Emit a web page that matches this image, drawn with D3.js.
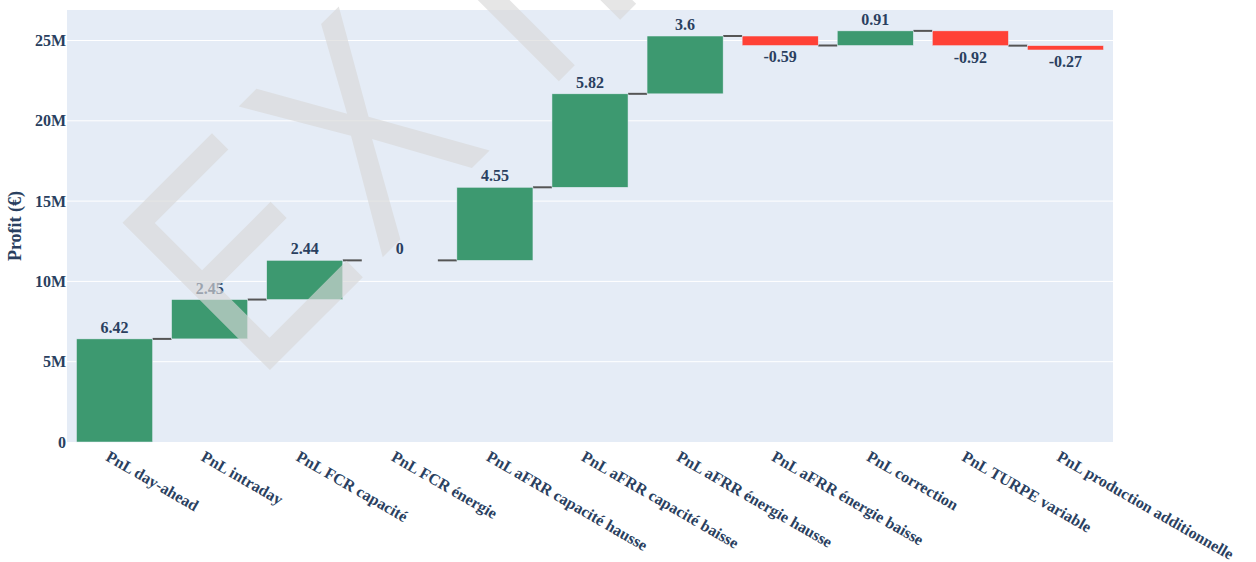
<!DOCTYPE html>
<html>
<head>
<meta charset="utf-8">
<script src="https://cdn.jsdelivr.net/npm/d3@7"></script>
<style>
  body { margin: 0; background: #fff; }
</style>
</head>
<body>
<div id="my_dataviz"></div>
<script>
// chart data (values in euros)
var categories = ["PnL day-ahead", "PnL intraday", "PnL FCR capacité", "PnL FCR énergie",
  "PnL aFRR capacité hausse", "PnL aFRR capacité baisse", "PnL aFRR énergie hausse",
  "PnL aFRR énergie baisse", "PnL correction", "PnL TURPE variable", "PnL production additionnelle"];
var values = [6.42e6, 2.45e6, 2.44e6, 0, 4.55e6, 5.82e6, 3.6e6, -0.59e6, 0.91e6, -0.92e6, -0.27e6];
var labels = ["6.42", "2.45", "2.44", "0", "4.55", "5.82", "3.6", "-0.59", "0.91", "-0.92", "-0.27"];
var yTicks = [0, 5e6, 10e6, 15e6, 20e6, 25e6];
var yTickLabels = ["0", "5M", "10M", "15M", "20M", "25M"];

// set the dimensions and margins of the graph
var width = 1256, height = 562;
var margin = {top: 10, right: 143, bottom: 120, left: 67};

var serif = "'Liberation Serif', 'Times New Roman', serif";
var textColor = "#2a3f5f";
var plotBg = "#e5ecf6";

var svg = d3.select("#my_dataviz")
  .append("svg")
  .attr("width", width)
  .attr("height", height);

var x = d3.scaleBand()
  .domain(categories)
  .range([margin.left, width - margin.right])
  .paddingInner(0.2)
  .paddingOuter(0.1);

var y = d3.scaleLinear()
  .domain([0, 26.9e6])
  .range([height - margin.bottom, margin.top]);

// plot background
svg.append("rect")
  .attr("x", margin.left)
  .attr("y", margin.top)
  .attr("width", width - margin.left - margin.right)
  .attr("height", height - margin.top - margin.bottom)
  .attr("fill", plotBg);

// gridlines
svg.append("g")
  .selectAll("line")
  .data(yTicks.filter(function(d) { return d > 0; }))
  .enter().append("line")
  .attr("x1", margin.left)
  .attr("x2", width - margin.right)
  .attr("y1", function(d) { return y(d); })
  .attr("y2", function(d) { return y(d); })
  .attr("stroke", "#fff")
  .attr("stroke-width", 1);

// y axis labels
svg.append("g")
  .selectAll("text")
  .data(yTicks)
  .enter().append("text")
  .attr("x", margin.left - 1)
  .attr("y", function(d) { return y(d); })
  .attr("dy", "0.35em")
  .attr("text-anchor", "end")
  .style("font-family", serif)
  .style("font-weight", "bold")
  .style("font-size", "16px")
  .attr("fill", textColor)
  .text(function(d, i) { return yTickLabels[i]; });

svg.append("text")
  .attr("transform", "translate(21," + ((margin.top + height - margin.bottom) / 2) + ") rotate(-90)")
  .attr("text-anchor", "middle")
  .style("font-family", serif)
  .style("font-weight", "bold")
  .style("font-size", "18px")
  .attr("fill", textColor)
  .text("Profit (€)");

// x axis labels, angled
svg.append("g")
  .selectAll("text")
  .data(categories)
  .enter().append("text")
  .attr("transform", function(d) {
    return "translate(" + (x(d) + x.bandwidth() / 2 - 4) + "," + (height - margin.bottom + 8) + ") rotate(30)";
  })
  .attr("dy", "0.71em")
  .attr("text-anchor", "start")
  .style("font-family", serif)
  .style("font-weight", "bold")
  .style("font-size", "16px")
  .attr("fill", textColor)
  .text(function(d) { return d; });

// running totals for the waterfall
var steps = [];
var total = 0;
values.forEach(function(v, i) {
  steps.push({cat: categories[i], start: total, end: total + v, value: v, label: labels[i]});
  total += v;
});

// connectors between bars
svg.append("g")
  .selectAll("line")
  .data(steps.slice(0, -1))
  .enter().append("line")
  .attr("x1", function(d) { return x(d.cat) + x.bandwidth(); })
  .attr("x2", function(d, i) { return x(categories[i + 1]); })
  .attr("y1", function(d) { return y(d.end); })
  .attr("y2", function(d) { return y(d.end); })
  .attr("stroke", "#555")
  .attr("stroke-width", 2);

// bars
svg.append("g")
  .selectAll("rect")
  .data(steps.filter(function(d) { return d.value !== 0; }))
  .enter().append("rect")
  .attr("x", function(d) { return x(d.cat); })
  .attr("width", x.bandwidth())
  .attr("y", function(d) { return y(Math.max(d.start, d.end)); })
  .attr("height", function(d) { return Math.abs(y(d.start) - y(d.end)); })
  .attr("fill", function(d) { return d.value >= 0 ? "#3d9970" : "#ff4136"; })
  .attr("stroke", plotBg)
  .attr("stroke-width", 0.5);

// value labels outside the bars
svg.append("g")
  .selectAll("text")
  .data(steps)
  .enter().append("text")
  .attr("x", function(d) { return x(d.cat) + x.bandwidth() / 2; })
  .attr("y", function(d) {
    return d.value >= 0 ? y(d.end) - 6 : y(d.end) + 17;
  })
  .attr("text-anchor", "middle")
  .style("font-family", serif)
  .style("font-weight", "bold")
  .style("font-size", "16px")
  .attr("fill", textColor)
  .text(function(d) { return d.label; });

// watermark over everything, letters placed along a -45deg baseline
var mark = "EXTRAIT".split("");
var markPos = [58, 232, 417, 560, 690, 800, 900];
var wm = svg.append("g")
  .attr("transform", "translate(272,368) rotate(-45)")
  .attr("opacity", 0.65);
wm.selectAll("text")
  .data(mark)
  .enter().append("text")
  .attr("transform", function(d, i) { return "translate(" + markPos[i] + ",0) scale(0.8,1)"; })
  .attr("text-anchor", "middle")
  .style("font-family", "'Liberation Sans', Arial, sans-serif")
  .style("font-size", "303px")
  .attr("fill", "#d9d9d9")
  .text(function(d) { return d; });
</script>
</body>
</html>
